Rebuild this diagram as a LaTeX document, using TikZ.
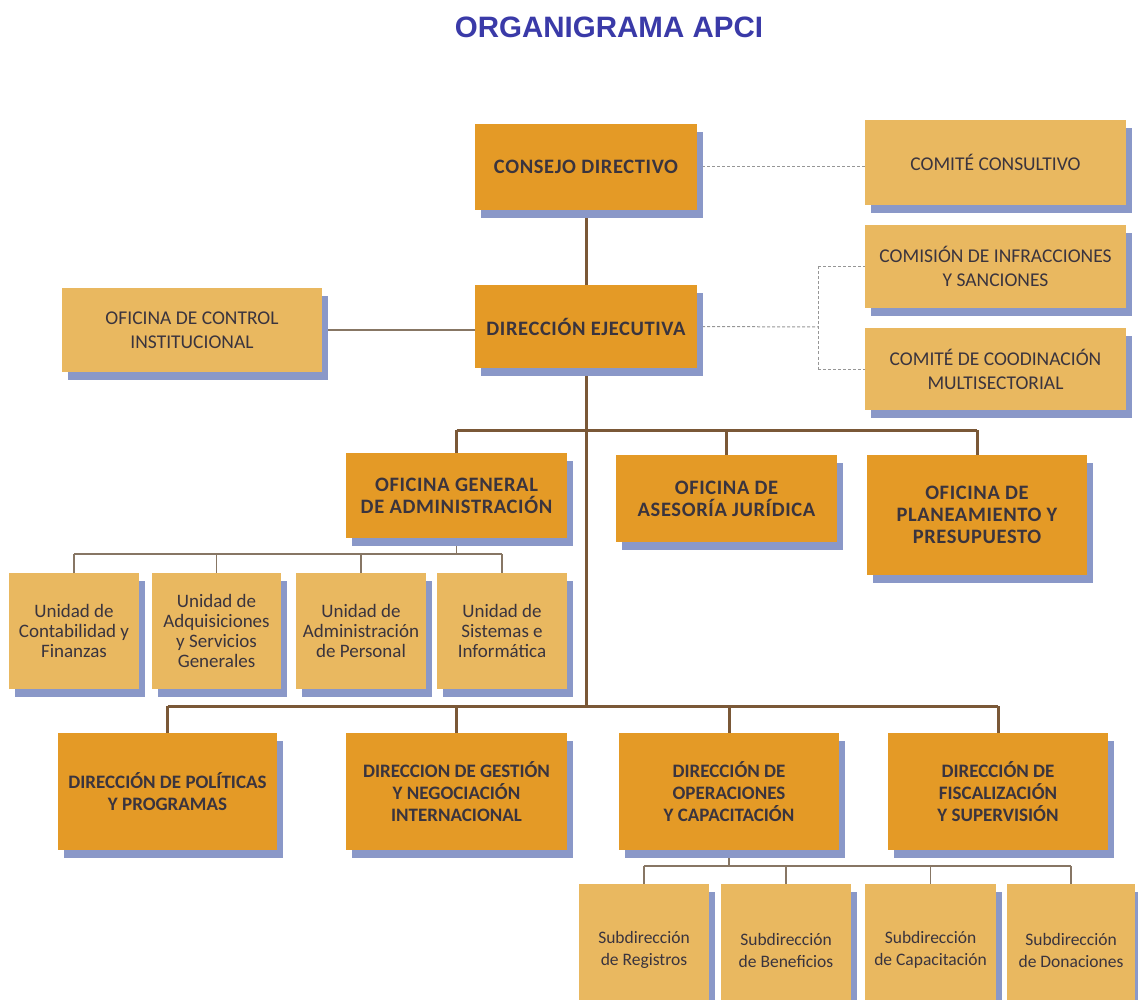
\documentclass[tikz,border=0pt]{standalone}
\usepackage{fontspec}
\newfontfamily\carl{Carlito}
\newfontfamily\carlw[LetterSpace=3]{Carlito}
\newfontfamily\titfont{Liberation Sans}
\usetikzlibrary{shadows}
\definecolor{darkbox}{RGB}{228,154,38}
\definecolor{lightbox}{RGB}{233,184,96}
\definecolor{shadowc}{RGB}{138,152,200}
\definecolor{txtc}{RGB}{58,52,62}
\definecolor{linec}{RGB}{122,88,55}
\definecolor{thinc}{RGB}{135,118,100}
\definecolor{dashc}{RGB}{150,150,150}
\definecolor{titc}{RGB}{58,58,168}
\pgfdeclarelayer{background}
\pgfsetlayers{background,main}
\begin{document}
\begin{tikzpicture}[x=1pt,y=-1pt,
  box/.style={rectangle, inner sep=0pt, align=center, text=txtc,
    general shadow={fill=shadowc, shadow xshift=6pt, shadow yshift=-8pt}},
  dbox/.style={box, fill=darkbox, font=\carlw\bfseries\fontsize{20.5}{22}\selectfont},
  nbox/.style={box, fill=darkbox, font=\carl\bfseries\fontsize{19}{22}\selectfont},
  lbox/.style={box, fill=lightbox, font=\carl\fontsize{19.5}{24}\selectfont},
  ubox/.style={box, fill=lightbox, font=\carl\fontsize{19}{20}\selectfont},
  sbox/.style={box, fill=lightbox, font=\carl\fontsize{17.5}{22}\selectfont},
  mainline/.style={draw=linec, line width=3pt},
  thinline/.style={draw=thinc, line width=1.8pt},
  dashline/.style={draw=dashc, line width=1pt, dash pattern=on 3pt off 2pt}]
\useasboundingbox (0,0) rectangle (1138,1000);
\clip (0,0) rectangle (1138,1000);

\node[font=\titfont\bfseries\fontsize{29.5}{32}\selectfont, text=titc] (title) at (609,27) {ORGANIGRAMA APCI};

% top level
\node[dbox, minimum width=222pt, minimum height=86pt] (cd) at (586,167) {CONSEJO DIRECTIVO};
\node[lbox, minimum width=261pt, minimum height=85pt] (cc) at (995.5,162.5) {COMITÉ CONSULTIVO};
\node[dbox, minimum width=222pt, minimum height=83pt] (de) at (586,326.5) {DIRECCIÓN EJECUTIVA};
\node[lbox, minimum width=260pt, minimum height=84pt] (oci) at (192,330) {OFICINA DE CONTROL\\INSTITUCIONAL};
\node[lbox, minimum width=261pt, minimum height=83pt] (cis) at (995.5,266.5) {COMISIÓN DE INFRACCIONES\\Y SANCIONES};
\node[lbox, minimum width=261pt, minimum height=82pt] (ccm) at (995.5,369) {COMITÉ DE COODINACIÓN\\MULTISECTORIAL};

% offices
\node[dbox, minimum width=221pt, minimum height=85pt] (oga) at (456.5,495.5) {OFICINA GENERAL\\DE ADMINISTRACIÓN};
\node[dbox, minimum width=221pt, minimum height=87pt] (oaj) at (726.5,498.5) {OFICINA DE\\ASESORÍA JURÍDICA};
\node[dbox, minimum width=220pt, minimum height=120pt] (opp) at (977,515) {OFICINA DE\\PLANEAMIENTO Y\\PRESUPUESTO};

% units
\node[ubox, minimum width=130pt, minimum height=116pt] (u1) at (74,631) {Unidad de\\Contabilidad y\\Finanzas};
\node[ubox, minimum width=129pt, minimum height=116pt] (u2) at (216.5,631) {Unidad de\\Adquisiciones\\y Servicios\\Generales};
\node[ubox, minimum width=130pt, minimum height=116pt] (u3) at (361,631) {Unidad de\\Administración\\de Personal};
\node[ubox, minimum width=130pt, minimum height=116pt] (u4) at (502,631) {Unidad de\\Sistemas e\\Informática};

% directions
\node[nbox, minimum width=219pt, minimum height=117pt] (dpp) at (167.5,791.5) {DIRECCIÓN DE POLÍTICAS\\Y PROGRAMAS};
\node[nbox, minimum width=221pt, minimum height=117pt] (dgn) at (456.5,791.5) {DIRECCION DE GESTIÓN\\Y NEGOCIACIÓN\\INTERNACIONAL};
\node[nbox, minimum width=220pt, minimum height=117pt] (doc) at (729,791.5) {DIRECCIÓN DE\\OPERACIONES\\Y CAPACITACIÓN};
\node[nbox, minimum width=220pt, minimum height=117pt] (dfs) at (998,791.5) {DIRECCIÓN DE\\FISCALIZACIÓN\\Y SUPERVISIÓN};

% subdirections
\node[sbox, minimum width=130pt, minimum height=132pt] (s1) at (644,950) {Subdirección\\de Registros};
\node[sbox, minimum width=130pt, minimum height=132pt] (s2) at (786,950) {Subdirección\\de Beneficios};
\node[sbox, minimum width=131pt, minimum height=132pt] (s3) at (930.5,950) {Subdirección\\de Capacitación};
\node[sbox, minimum width=128pt, minimum height=132pt] (s4) at (1071,950) {Subdirección\\de Donaciones};

\coordinate (j1) at (586,430);
\coordinate (j2) at (586,706);
\coordinate (j3) at (458,554);
\coordinate (j4) at (729,866);
\coordinate (jd) at (818,327);

\begin{pgfonlayer}{background}
\draw[mainline] (cd.south) -- (de.north);
\draw[mainline] (de.south) -- (j2);
\draw[thinline] (oci.east) -- (oci.east -| de.west);
\draw[dashline] (cd.east) -- (cd.east -| cc.west);
\draw[dashline] (de.east) -- (jd);
\draw[dashline] (jd |- cis.west) -- (jd |- ccm.west);
\draw[dashline] (jd |- cis.west) -- (cis.west);
\draw[dashline] (jd |- ccm.west) -- (ccm.west);
% offices bar
\draw[mainline] (oga.north |- j1) -- (opp.north |- j1);
\draw[mainline] (oga.north |- j1) -- (oga.north);
\draw[mainline] (oaj.north |- j1) -- (oaj.north);
\draw[mainline] (opp.north |- j1) -- (opp.north);
% units bar
\draw[thinline] (oga.south) -- (oga.south |- j3);
\draw[thinline] (u1.north |- j3) -- (u4.north |- j3);
\foreach \u in {u1,u2,u3,u4} \draw[thinline] (\u.north |- j3) -- (\u.north);
% directions bar
\draw[mainline] (dpp.north |- j2) -- (dfs.north |- j2);
\foreach \d in {dpp,dgn,doc,dfs} \draw[mainline] (\d.north |- j2) -- (\d.north);
% subdirections bar
\draw[thinline] (doc.south) -- (j4);
\draw[thinline] (s1.north |- j4) -- (s4.north |- j4);
\foreach \s in {s1,s2,s3,s4} \draw[thinline] (\s.north |- j4) -- (\s.north);
\end{pgfonlayer}
\end{tikzpicture}
\end{document}
